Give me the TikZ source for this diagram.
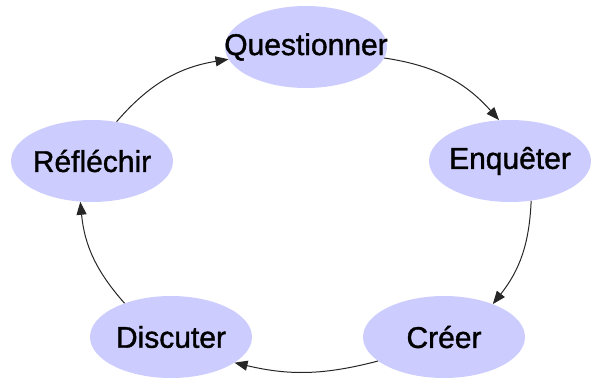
\documentclass[tikz,border=0pt]{standalone}
\usepackage{fontspec}
\setmainfont{Liberation Sans}
\newfontfamily\lblfont{Liberation Sans}[FakeBold=1.3]
\usetikzlibrary{shapes.geometric,arrows.meta}
\definecolor{lav}{RGB}{204,204,255}
\tikzset{
  blob/.style={ellipse, fill=lav, draw=none, minimum width=162pt, minimum height=82pt, inner sep=0pt},
  lbl/.style={font=\lblfont\fontsize{30}{32}\selectfont, text=black},
  conn/.style={draw=black!85, line width=1pt, -{Triangle[length=13pt,width=10pt]}}
}
\begin{document}
\begin{tikzpicture}[x=1pt,y=-1pt]
\useasboundingbox (0,0) rectangle (591,381);
\node[blob, label={[lbl]center:Questionner}] (q) at (306,47) {};
\node[blob, label={[lbl]center:Enquêter}] (e) at (510,161) {};
\node[blob, label={[lbl]center:Créer}] (c) at (444,337) {};
\node[blob, label={[lbl]center:Discuter}] (d) at (171,337) {};
\node[blob, label={[lbl]center:Réfléchir}] (r) at (92,161) {};
\draw[conn] (q.-8) to[bend left=20] (e.105);
\draw[conn] (e.-62) to[bend left=18] (c.34);
\draw[conn] (c.200) to[bend left=14] (d.-22);
\draw[conn] (d.144) to[bend left=18] (r.254);
\draw[conn] (r.58) to[bend left=20] (q.189);
\end{tikzpicture}
\end{document}
